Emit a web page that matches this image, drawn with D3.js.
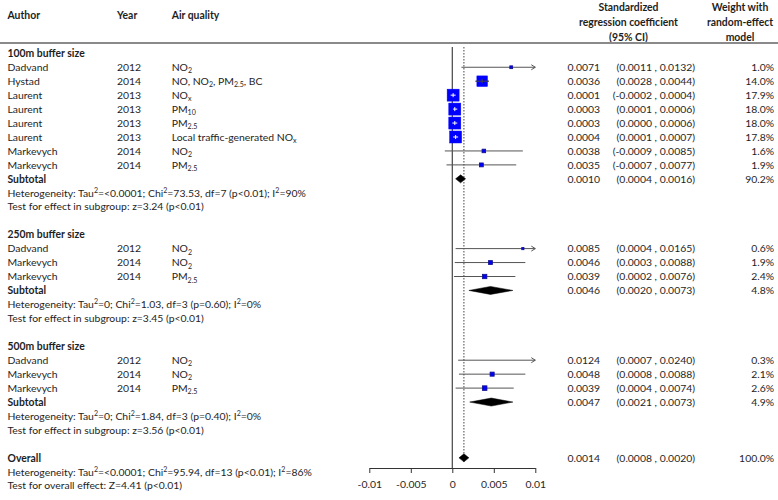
<!DOCTYPE html>
<html><head><meta charset="utf-8">
<script src="https://cdn.jsdelivr.net/npm/d3@7"></script>
<style>
html,body{margin:0;padding:0;background:#fff;}
svg text{font-family:"Lato","Noto Sans",sans-serif;}
</style></head>
<body><svg id="c" width="778" height="500"></svg>
<script>
// ---------- data ----------
const groupNames = ["100m buffer size","250m buffer size","500m buffer size"];
const studyGroup = [0,0,0,0,0,0,0,0, 1,1,1, 2,2,2];
const authors = ["Dadvand","Hystad","Laurent","Laurent","Laurent","Laurent","Markevych","Markevych",
                 "Dadvand","Markevych","Markevych",
                 "Dadvand","Markevych","Markevych"];
const years = ["2012","2014","2013","2013","2013","2013","2014","2014",
               "2012","2014","2014",
               "2012","2014","2014"];
const pollutants = ["NO_{2}","NO, NO_{2}, PM_{2.5}, BC","NO_{x}","PM_{10}","PM_{2.5}","Local traffic-generated NO_{x}","NO_{2}","PM_{2.5}",
                    "NO_{2}","NO_{2}","PM_{2.5}",
                    "NO_{2}","NO_{2}","PM_{2.5}"];
const estimates = [0.0071,0.0036,0.0001,0.0003,0.0003,0.0004,0.0038,0.0035,
                   0.0085,0.0046,0.0039,
                   0.0124,0.0048,0.0039];
const lower = [0.0011,0.0028,-0.0002,0.0001,0.0000,0.0001,-0.0009,-0.0007,
               0.0004,0.0003,0.0002,
               0.0007,0.0008,0.0004];
const upper = [0.0132,0.0044,0.0004,0.0006,0.0006,0.0007,0.0085,0.0077,
               0.0165,0.0088,0.0076,
               0.0240,0.0088,0.0074];
const weights = [1.0,14.0,17.9,18.0,18.0,17.8,1.6,1.9,
                 0.6,1.9,2.4,
                 0.3,2.1,2.6];
const subEst = [0.0010,0.0046,0.0047];
const subLower = [0.0004,0.0020,0.0021];
const subUpper = [0.0016,0.0073,0.0073];
const subWeights = [90.2,4.8,4.9];
const hetTexts = ["Heterogeneity: Tau^{2}=<0.0001; Chi^{2}=73.53, df=7 (p<0.01); I^{2}=90%",
                  "Heterogeneity: Tau^{2}=0; Chi^{2}=1.03, df=3 (p=0.60); I^{2}=0%",
                  "Heterogeneity: Tau^{2}=0; Chi^{2}=1.84, df=3 (p=0.40); I^{2}=0%"];
const testTexts = ["Test for effect in subgroup: z=3.24 (p<0.01)",
                   "Test for effect in subgroup: z=3.45 (p<0.01)",
                   "Test for effect in subgroup: z=3.56 (p<0.01)"];
const overallEst = 0.0014, overallLower = 0.0008, overallUpper = 0.0020, overallWeight = 100.0;
const overallHet = "Heterogeneity: Tau^{2}=<0.0001; Chi^{2}=95.94, df=13 (p<0.01); I^{2}=86%";
const overallTest = "Test for overall effect: Z=4.41 (p<0.01)";
const tickValues = [-0.01,-0.005,0,0.005,0.01];
const tickLabels = ["-0.01","-0.005","0","0.005","0.01"];

// ---------- layout ----------
const FS = 10.4;
const svg = d3.select("#c");
const x = d3.scaleLinear().domain([-0.01,0.01]).range([369.3,535.3]);
const row0 = 53.3, rowStep = 13.95;
const rowY = i => row0 + i*rowStep;
const colAuthor = 7.5, colYear = 117, colPoll = 171.7, colEst = 600, colCI = 695, colW = 774;
const txtColor = "#1e1e1e";
const fmt4 = v => (v<0?"-":"") + Math.abs(v).toFixed(4);
const fmt1 = v => v.toFixed(1);

function rich(sel, str){
  const re = /([_^])\{([^}]*)\}/g;
  let last = 0, m, shift = 0;
  const parts = [];
  while((m = re.exec(str))){
    if(m.index>last) parts.push({t:str.slice(last,m.index),k:""});
    parts.push({t:m[2],k:m[1]});
    last = re.lastIndex;
  }
  if(last<str.length) parts.push({t:str.slice(last),k:""});
  parts.forEach(p=>{
    const ts = sel.append("tspan").text(p.t);
    let target = p.k==="_" ? 2.5 : p.k==="^" ? -4 : 0;
    if(target!==shift){ ts.attr("dy", target-shift); shift = target; }
    if(p.k) ts.attr("font-size", FS*0.68);
  });
  return sel;
}
function txt(xp, y, str, opts={}){
  const t = svg.append("text").attr("x",xp).attr("y",y).attr("dy","0.36em")
    .attr("font-size",opts.size||FS).attr("fill",txtColor)
    .attr("text-anchor",opts.anchor||"start");
  if(opts.bold) t.attr("font-weight","bold");
  rich(t,str);
  return t;
}

// headers
txt(colAuthor,15,"Author",{bold:true});
txt(colYear,15,"Year",{bold:true});
txt(colPoll,15,"Air quality",{bold:true});
[["Standardized",7.5],["regression coefficient",22.7],["(95% CI)",37.5]].forEach(d=>txt(628.5,d[1],d[0],{bold:true,anchor:"middle"}));
[["Weight with",7.5],["random-effect",22.7],["model",37.5]].forEach(d=>txt(740,d[1],d[0],{bold:true,anchor:"middle"}));
svg.append("line").attr("x1",0).attr("x2",778).attr("y1",43).attr("y2",43)
  .attr("stroke","#8a8a8a").attr("stroke-width",2);

// build rows
const studyRows = [], subRows = [];
let r = 0;
groupNames.forEach((g,gi)=>{
  txt(colAuthor,rowY(r),g,{bold:true});
  const idx = d3.range(authors.length).filter(i=>studyGroup[i]===gi);
  idx.forEach((i,k)=>studyRows[i]=r+1+k);
  const s = r+1+idx.length;
  subRows[gi]=s;
  txt(colAuthor,rowY(s),"Subtotal",{bold:true});
  txt(colAuthor,rowY(s+1),hetTexts[gi]);
  txt(colAuthor,rowY(s+2),testTexts[gi]);
  r = s+4;
});
const overallRow = r;
txt(colAuthor,rowY(overallRow),"Overall",{bold:true});
txt(colAuthor,rowY(overallRow+1),overallHet);
txt(colAuthor,rowY(overallRow+2),overallTest);

// reference lines
const axisY = 468;
svg.append("line").attr("x1",x(0)).attr("x2",x(0)).attr("y1",47).attr("y2",axisY)
  .attr("stroke","#444").attr("stroke-width",1.2);
svg.append("line").attr("x1",x(overallEst)).attr("x2",x(overallEst)).attr("y1",47).attr("y2",rowY(overallRow)+4)
  .attr("stroke","#444").attr("stroke-width",1).attr("stroke-dasharray","1.5,1.5");

// studies
const maxW = d3.max(weights);
const side = d3.scaleSqrt().domain([0,maxW]).range([0,12]);
authors.forEach((a,i)=>{
  const y = rowY(studyRows[i]);
  txt(colAuthor,y,a);
  txt(colYear,y,years[i]);
  txt(colPoll,y,pollutants[i]);
  txt(colEst,y,fmt4(estimates[i]),{anchor:"end"});
  txt(colCI,y,`(${fmt4(lower[i])} , ${fmt4(upper[i])})`,{anchor:"end"});
  txt(colW,y,fmt1(weights[i])+"%",{anchor:"end"});
  const lo = Math.max(lower[i],-0.01), hi = Math.min(upper[i],0.01);
  const s = side(weights[i]);
  const cx = x(estimates[i]);
  const inside = x(hi)-x(lo) < s;
  const lc = inside ? "#ffffff" : "#444";
  if(!inside){
    svg.append("line").attr("x1",x(lo)).attr("x2",x(hi)).attr("y1",y).attr("y2",y)
      .attr("stroke","#555").attr("stroke-width",1);
    if(upper[i]>0.01){
      svg.append("path").attr("d",`M${x(hi)-4},${y-2.5}L${x(hi)},${y}L${x(hi)-4},${y+2.5}`)
        .attr("fill","none").attr("stroke","#555").attr("stroke-width",1);
    }
  }
  if(estimates[i] <= 0.01 && estimates[i] >= -0.01){
    svg.append("rect").attr("x",cx-s/2).attr("y",y-s/2).attr("width",s).attr("height",s)
      .attr("fill","#0000ff").attr("stroke", s<6 ? "#10108a" : "#0000ff").attr("stroke-width",s<6?0.8:0.5);
  }
  if(s>=6){
    svg.append("line").attr("x1",x(lo)).attr("x2",x(hi)).attr("y1",y).attr("y2",y)
      .attr("stroke",lc).attr("stroke-width",1);
    svg.append("line").attr("x1",cx).attr("x2",cx).attr("y1",y-2).attr("y2",y+2)
      .attr("stroke",lc).attr("stroke-width",1);
  }
});

// diamonds
function diamond(est,lo,hi,y){
  svg.append("path").attr("d",`M${x(lo)},${y}L${x(est)},${y-4}L${x(hi)},${y}L${x(est)},${y+4}Z`)
    .attr("fill","#000").attr("stroke","#000").attr("stroke-width",0.5);
}
groupNames.forEach((g,gi)=>{
  const y = rowY(subRows[gi]);
  diamond(subEst[gi],subLower[gi],subUpper[gi],y);
  txt(colEst,y,fmt4(subEst[gi]),{anchor:"end"});
  txt(colCI,y,`(${fmt4(subLower[gi])} , ${fmt4(subUpper[gi])})`,{anchor:"end"});
  txt(colW,y,fmt1(subWeights[gi])+"%",{anchor:"end"});
});
{
  const y = rowY(overallRow);
  diamond(overallEst,overallLower,overallUpper,y);
  txt(colEst,y,fmt4(overallEst),{anchor:"end"});
  txt(colCI,y,`(${fmt4(overallLower)} , ${fmt4(overallUpper)})`,{anchor:"end"});
  txt(colW,y,fmt1(overallWeight)+"%",{anchor:"end"});
}

// axis
const axis = d3.axisBottom(x).tickValues(tickValues).tickSize(5).tickSizeOuter(0)
  .tickFormat((d,i)=>tickLabels[i]);
const ag = svg.append("g").attr("transform",`translate(0,${axisY})`).call(axis);
ag.select(".domain").attr("stroke","#333");
ag.selectAll(".tick line").attr("stroke","#333");
ag.selectAll(".tick text").attr("font-size",FS).attr("fill",txtColor)
  .attr("font-family","Lato, 'Noto Sans', sans-serif").attr("y",13);
</script></body></html>
